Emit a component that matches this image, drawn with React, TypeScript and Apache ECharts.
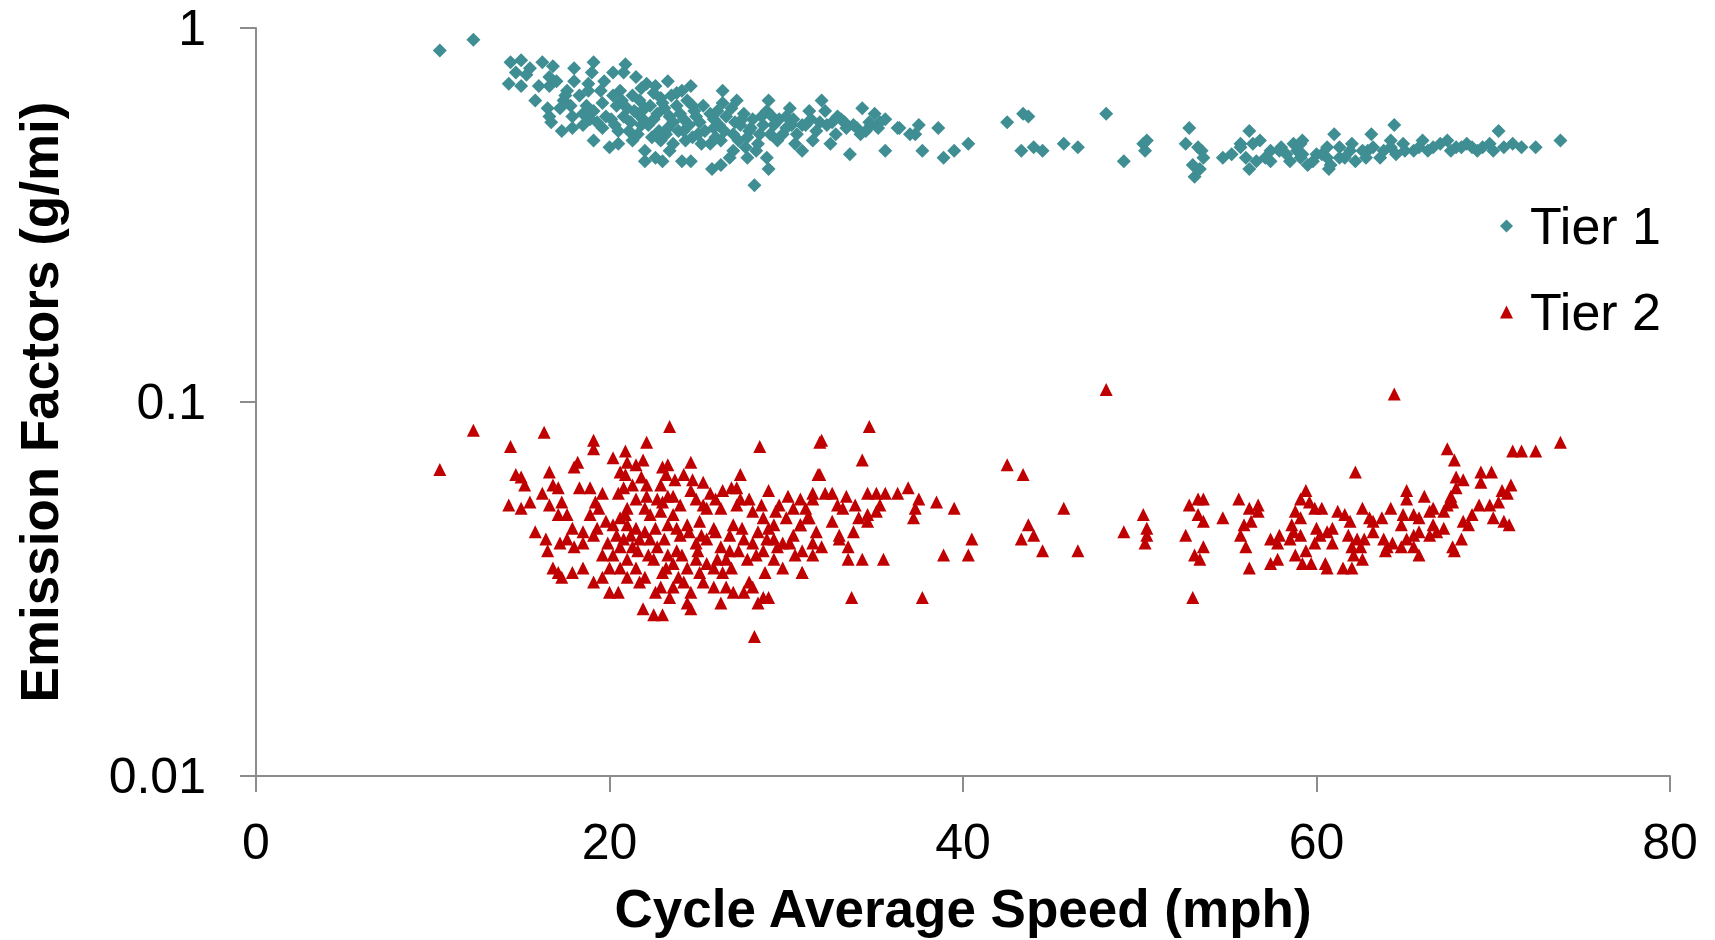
import React, { useEffect, useRef } from "react";
import * as echarts from "echarts";

const seriesNames = ["Tier 1", "Tier 2"];
const xTicks = [0, 20, 40, 60, 80];
const yTicks = [0.01, 0.1, 1];

// [cycle average speed (mph), emission factor (g/mi)]
const tier1: number[][] = [
  [10.4,0.87],[12.3,0.93],[14.4,0.81],[15.0,0.82],[16.2,0.81],[16.8,0.79],[14.7,0.76],[15.3,0.75],[14.3,0.71],[15.0,0.70],
  [15.8,0.64],[16.5,0.61],[16.6,0.58],[16.7,0.56],[17.3,0.53],[16.6,0.74],[16.6,0.70],[17.0,0.72],[18.0,0.78],[19.1,0.81],
  [19.0,0.76],[18.8,0.71],[18.8,0.68],[18.3,0.66],[17.6,0.68],[17.4,0.64],[17.2,0.61],[17.8,0.62],[17.9,0.58],[17.9,0.54],
  [18.7,0.62],[19.1,0.60],[19.5,0.68],[19.6,0.63],[18.9,0.57],[18.5,0.55],[19.1,0.50],[19.6,0.54],[20.2,0.76],[20.9,0.80],
  [20.8,0.76],[20.2,0.66],[20.6,0.68],[20.1,0.57],[20.0,0.48],[20.5,0.49],[20.5,0.53],[21.2,0.56],[21.0,0.61],[21.5,0.74],
  [22.1,0.71],[21.3,0.66],[21.7,0.64],[22.5,0.67],[23.3,0.72],[22.9,0.65],[23.5,0.66],[24.1,0.68],[24.6,0.70],[21.6,0.59],
  [22.3,0.62],[22.5,0.57],[21.8,0.55],[21.3,0.50],[22.0,0.47],[22.0,0.44],[22.6,0.45],[23.0,0.44],[22.9,0.50],[23.3,0.54],
  [23.4,0.58],[23.8,0.62],[24.4,0.64],[24.7,0.62],[24.2,0.57],[23.6,0.49],[23.4,0.47],[24.1,0.44],[24.6,0.44],[24.2,0.53],
  [24.7,0.51],[25.1,0.56],[25.3,0.62],[25.7,0.59],[26.4,0.68],[26.4,0.63],[27.2,0.64],[26.9,0.61],[25.9,0.54],[25.7,0.49],
  [26.3,0.50],[27.0,0.47],[26.8,0.45],[25.8,0.42],[26.3,0.43],[27.6,0.59],[27.4,0.55],[28.1,0.57],[27.9,0.53],[27.7,0.48],
  [27.8,0.45],[28.3,0.47],[28.9,0.45],[29.0,0.42],[28.2,0.38],[28.7,0.55],[29.0,0.64],[28.9,0.60],[29.2,0.58],[29.6,0.57],
  [30.0,0.54],[30.2,0.61],[30.4,0.57],[30.5,0.49],[30.9,0.47],[30.9,0.55],[31.3,0.60],[31.5,0.50],[32.0,0.64],[32.2,0.60],
  [31.9,0.56],[32.5,0.49],[32.6,0.56],[33.1,0.57],[33.4,0.54],[33.6,0.46],[33.8,0.55],[34.3,0.61],[34.2,0.52],[34.7,0.56],
  [35.0,0.59],[35.3,0.56],[35.6,0.47],[35.6,0.57],[36.3,0.54],
  [20.8,0.58],[21.4,0.60],[21.9,0.57],[22.2,0.55],[22.7,0.59],[23.1,0.61],[23.6,0.56],[24.0,0.59],[24.5,0.55],[24.9,0.58],
  [25.4,0.53],[25.9,0.57],[26.2,0.55],[26.6,0.58],[27.0,0.52],[27.5,0.57],[28.0,0.54],[28.5,0.52],[29.3,0.55],[29.8,0.52],
  [30.6,0.52],[31.1,0.55],[31.7,0.53],[32.3,0.55],[32.8,0.52],[33.3,0.56],[34.0,0.54],[34.5,0.53],[35.2,0.54],[21.1,0.53],
  [22.4,0.51],[23.2,0.52],[24.3,0.50],[25.2,0.49],[26.0,0.51],[27.3,0.50],[28.4,0.49],[29.5,0.50],[20.4,0.62],[19.8,0.58],
  [19.3,0.56],[18.5,0.59],[17.5,0.66],[18.0,0.72],[16.0,0.70],[15.5,0.78],[19.7,0.72],[22.6,0.70],[23.8,0.67],[21.8,0.69],
  [20.3,0.55],[21.6,0.52],[22.8,0.53],[23.9,0.53],[25.0,0.52],[26.5,0.53],[27.8,0.51],[29.1,0.52],[30.3,0.55],[31.4,0.57],
  [32.9,0.58],[34.8,0.55],[20.7,0.64],[22.0,0.61],[23.0,0.63],[24.8,0.60],[26.1,0.60],[27.1,0.56],[28.6,0.58],[30.0,0.58],
  [36.4,0.54],[37.0,0.52],[37.5,0.55],[37.3,0.52],[38.6,0.54],[37.7,0.47],[38.9,0.45],[39.5,0.47],[40.3,0.49],[42.5,0.56],
  [43.4,0.59],[43.7,0.58],[43.3,0.47],[44.0,0.48],[44.5,0.47],[45.7,0.49],[46.5,0.48],[48.1,0.59],[49.1,0.44],[50.2,0.49],
  [50.3,0.47],[50.4,0.50],[52.8,0.54],[52.6,0.49],[53.3,0.48],[53.5,0.47],[53.6,0.45],[53.0,0.43],[53.4,0.42],[53.1,0.40],
  [54.7,0.45],[55.7,0.49],[56.2,0.53],[56.4,0.49],[56.0,0.45],[56.2,0.42],[56.8,0.50],[57.4,0.47],[57.4,0.44],[57.9,0.47],
  [58.7,0.49],[59.1,0.45],[59.2,0.50],[59.5,0.43],[60.0,0.46],[60.6,0.48],[61.0,0.52],[60.8,0.43],[61.3,0.45],[61.9,0.47],
  [62.2,0.44],[63.1,0.52],[62.9,0.47],[63.6,0.45],[64.2,0.50],[64.4,0.55],
  [55.7,0.48],[58.5,0.44],[59.1,0.49],[59.2,0.46],[60.6,0.45],[60.7,0.42],[61.3,0.48],[62.6,0.47],[63.2,0.48],[64.2,0.48],
  [64.9,0.49],[65.5,0.47],[66.0,0.50],[66.6,0.48],[67.4,0.50],[67.9,0.48],[68.5,0.49],[69.1,0.47],[69.8,0.49],[70.3,0.53],
  [70.6,0.48],[71.1,0.49],[71.6,0.48],[72.4,0.48],[73.8,0.50],
  [58.0,0.48],[59.8,0.44],[60.3,0.46],[61.6,0.45],[62.0,0.49],[62.8,0.45],[63.8,0.47],[64.5,0.46],[65.0,0.47],[65.8,0.48],
  [66.3,0.47],[67.0,0.49],[67.6,0.47],[68.2,0.48],[68.8,0.48],[69.4,0.48],[70.0,0.47],[55.2,0.46],[56.6,0.44],[57.1,0.45],
  [58.3,0.46],[58.9,0.47],
];

const tier2: number[][] = [
  [10.4,0.066],[12.3,0.084],[14.4,0.076],[16.3,0.083],[19.1,0.079],[19.1,0.075],[23.4,0.086],[22.1,0.078],[28.5,0.076],[31.9,0.078],
  [14.7,0.064],[15.0,0.063],[15.2,0.060],[14.3,0.053],[15.0,0.052],[15.5,0.054],[15.8,0.045],[16.4,0.043],[16.5,0.040],[16.6,0.065],
  [16.8,0.060],[17.1,0.059],[16.2,0.057],[16.6,0.053],[17.3,0.054],[17.1,0.050],[17.6,0.050],[16.8,0.036],[17.1,0.035],[17.3,0.034],
  [17.2,0.042],[17.6,0.043],[17.9,0.035],[18.0,0.041],[17.9,0.046],[18.2,0.069],[18.0,0.067],[18.3,0.059],[18.9,0.059],[19.6,0.057],
  [19.2,0.054],[18.9,0.050],[19.4,0.052],[18.5,0.045],[19.1,0.044],[18.5,0.042],[19.3,0.046],[18.5,0.036],[19.1,0.033],[19.6,0.034],
  [20.0,0.031],[20.5,0.031],[20.2,0.071],[20.9,0.074],[21.0,0.069],[20.6,0.065],[20.9,0.064],[21.5,0.068],[21.9,0.070],[23.0,0.067],
  [23.3,0.068],[24.6,0.069],[20.8,0.059],[21.3,0.060],[22.1,0.060],[22.9,0.060],[23.7,0.062],[24.2,0.064],[24.7,0.062],[25.3,0.061],
  [24.6,0.058],[23.6,0.056],[23.3,0.056],[22.7,0.055],[22.1,0.056],[21.5,0.055],[21.0,0.052],[20.6,0.049],[20.2,0.047],[21.0,0.047],
  [21.5,0.046],[22.3,0.050],[22.9,0.051],[23.6,0.050],[23.3,0.047],[23.8,0.046],[24.4,0.047],[25.1,0.048],[25.5,0.052],[26.3,0.052],
  [26.4,0.058],[27.2,0.059],[27.4,0.055],[27.2,0.053],[28.1,0.051],[28.7,0.049],[29.0,0.058],[29.6,0.053],[30.1,0.056],[30.8,0.055],
  [31.2,0.049],[31.5,0.055],[31.8,0.064],[30.8,0.047],[30.4,0.044],[30.0,0.049],[29.3,0.047],[29.3,0.043],[29.8,0.042],[28.9,0.043],
  [28.1,0.042],[27.6,0.043],[28.3,0.039],[27.8,0.038],[30.9,0.040],[31.5,0.042],[30.5,0.039],[30.9,0.035],[28.7,0.030],[28.4,0.029],
  [29.0,0.030],[28.2,0.0236],[27.9,0.033],[28.8,0.035],[28.1,0.032],[27.6,0.031],[27.0,0.031],[26.6,0.032],[26.3,0.029],[25.9,0.032],
  [25.3,0.033],[25.5,0.037],[25.9,0.036],[26.4,0.035],[26.6,0.038],[26.8,0.040],[26.3,0.041],[25.5,0.043],[24.9,0.042],[24.9,0.038],
  [24.4,0.036],[24.2,0.033],[24.6,0.031],[24.6,0.028],[24.4,0.029],[23.6,0.032],[23.4,0.030],[23.0,0.027],[22.5,0.027],[21.9,0.028],
  [22.9,0.032],[23.0,0.035],[23.6,0.037],[23.8,0.040],[23.3,0.039],[22.5,0.038],[22.7,0.041],[22.3,0.043],[21.7,0.043],[21.3,0.041],
  [21.0,0.038],[21.5,0.036],[21.0,0.034],[21.7,0.033],[20.6,0.036],[20.2,0.039],[19.9,0.042],[19.6,0.039],[20.0,0.036],[20.8,0.043],
  [20.6,0.041],[29.3,0.038],[29.8,0.036],[29.5,0.041],[30.2,0.042],[27.0,0.047],[25.9,0.046],[25.3,0.053],[25.7,0.057],[27.4,0.064],
  [26.9,0.059],
  [20.4,0.044],[21.2,0.044],[22.0,0.045],[22.6,0.046],[23.1,0.043],[24.0,0.044],[24.5,0.045],[25.2,0.044],[26.0,0.045],[26.8,0.044],
  [27.5,0.046],[28.4,0.045],[29.0,0.046],[19.8,0.048],[20.9,0.050],[22.0,0.052],[23.0,0.054],[24.0,0.053],[24.9,0.055],[26.0,0.055],
  [27.9,0.055],[28.6,0.053],[29.4,0.051],[30.4,0.052],[21.6,0.040],[22.2,0.039],[23.2,0.036],[24.1,0.039],[25.0,0.040],[26.1,0.038],
  [27.3,0.040],[28.7,0.040],[22.0,0.034],[22.6,0.031],[23.9,0.034],[25.1,0.035],[26.9,0.036],[20.5,0.057],[21.8,0.063],[23.2,0.064],
  [48.1,0.108],[34.7,0.086],[32.0,0.079],[34.3,0.070],[31.9,0.064],[42.5,0.068],[43.4,0.064],[31.5,0.057],[32.2,0.057],[32.6,0.057],
  [33.4,0.056],[34.6,0.057],[35.1,0.057],[35.6,0.057],[36.3,0.057],[36.9,0.059],[37.5,0.055],[37.3,0.052],[37.2,0.049],[38.5,0.054],
  [39.5,0.052],[40.5,0.043],[40.3,0.039],[38.9,0.039],[37.7,0.030],[33.7,0.030],[30.9,0.035],[32.9,0.053],[33.2,0.052],[33.9,0.053],
  [34.6,0.050],[35.1,0.051],[35.3,0.053],[34.1,0.049],[34.6,0.048],[33.8,0.045],[33.0,0.044],[32.6,0.048],[31.7,0.045],[31.1,0.052],
  [31.3,0.049],[30.8,0.047],[32.0,0.041],[31.5,0.039],[33.5,0.041],[33.5,0.038],[34.3,0.038],[35.5,0.038],[33.0,0.043],
  [43.7,0.047],[44.0,0.044],[43.3,0.043],[45.7,0.052],[44.5,0.040],[46.5,0.040],[49.1,0.045],[50.2,0.050],[50.4,0.046],[50.3,0.042],
  [50.4,0.044],[52.6,0.044],[52.8,0.053],[53.3,0.050],[53.1,0.039],[53.0,0.030],[53.3,0.055],
  [64.4,0.105],[73.8,0.078],[67.4,0.075],[67.8,0.070],[71.1,0.074],[71.6,0.074],[72.4,0.074],[62.2,0.065],[69.3,0.065],[69.9,0.065],
  [69.3,0.061],[67.9,0.063],[68.3,0.062],[67.9,0.059],[71.0,0.060],[70.5,0.058],[70.8,0.057],[67.6,0.056],[67.7,0.054],[67.4,0.053],
  [70.3,0.054],[69.8,0.053],[69.2,0.053],[70.0,0.049],[70.6,0.048],[70.9,0.047],[68.8,0.050],[68.3,0.048],[68.6,0.047],[68.2,0.043],
  [67.7,0.041],[67.8,0.040],[67.2,0.051],[66.6,0.052],[66.1,0.056],[65.1,0.058],[65.1,0.055],[64.9,0.050],[65.5,0.050],[65.8,0.049],
  [66.4,0.051],[66.6,0.047],[67.2,0.046],[66.8,0.045],[66.4,0.044],[65.8,0.045],[65.5,0.044],[65.1,0.043],[64.8,0.041],[65.8,0.039],
  [65.5,0.041],[64.8,0.047],[64.2,0.052],[63.7,0.049],[63.2,0.048],[62.6,0.052],[63.0,0.049],[62.7,0.043],[62.3,0.043],[62.5,0.041],
  [62.0,0.041],[62.6,0.038],[62.0,0.036],[61.5,0.036],[62.1,0.039],[63.8,0.043],[64.3,0.042],[63.9,0.040],[64.0,0.041],[61.8,0.044],
  [61.9,0.048],[61.6,0.050],[61.2,0.051],[60.9,0.046],[60.6,0.045],[60.9,0.042],[60.5,0.037],[60.6,0.036],[60.3,0.052],[59.9,0.052],
  [59.6,0.054],[60.0,0.046],[59.9,0.042],[59.7,0.037],[59.2,0.037],[59.4,0.040],[59.1,0.044],[58.7,0.045],[58.8,0.039],[59.1,0.049],
  [58.8,0.051],[58.6,0.047],[59.1,0.055],[59.4,0.058],[58.5,0.043],[57.9,0.044],[57.8,0.042],[57.8,0.038],[57.4,0.043],[57.4,0.037],
  [56.2,0.036],[56.0,0.041],[55.7,0.044],[55.9,0.047],[56.3,0.048],[56.2,0.052],[56.7,0.053],[56.7,0.051],[55.6,0.055],[54.7,0.049],
  [53.6,0.055],[53.6,0.048],[53.6,0.041],[53.4,0.038],[60.2,0.044],[63.2,0.045],
];

const tickStyle = { show: true, length: 16, lineStyle: { color: "#8c8c8c", width: 2 } };
const font = "'Liberation Sans', Arial, Helvetica, sans-serif";

export default function App() {
  const ref = useRef<HTMLDivElement>(null);
  useEffect(() => {
    if (!ref.current) return;
    const chart = echarts.init(ref.current, null, { renderer: "svg" });
    chart.setOption({
      animation: false,
      backgroundColor: "#ffffff",
      grid: { left: 256, right: 45, top: 28, bottom: 160 },
      legend: {
        orient: "vertical",
        left: 1495,
        top: 195,
        itemGap: 34,
        itemWidth: 13,
        itemHeight: 13,
        data: [
          { name: seriesNames[0], icon: "diamond" },
          { name: seriesNames[1], icon: "triangle" },
        ],
        textStyle: { fontSize: 52, color: "#000", fontFamily: font, padding: [0, 0, 0, 12] },
      },
      xAxis: {
        type: "value",
        min: xTicks[0],
        max: xTicks[xTicks.length - 1],
        interval: 20,
        name: "Cycle Average Speed (mph)",
        nameLocation: "middle",
        nameGap: 106,
        nameTextStyle: { fontSize: 53, fontWeight: "bold", color: "#000", fontFamily: font },
        axisLine: { lineStyle: { color: "#8c8c8c", width: 2 } },
        axisTick: tickStyle,
        axisLabel: { fontSize: 50, color: "#000", fontFamily: font, margin: 41 },
        splitLine: { show: false },
      },
      yAxis: {
        type: "log",
        logBase: 10,
        min: yTicks[0],
        max: yTicks[yTicks.length - 1],
        name: "Emission Factors (g/mi)",
        nameLocation: "middle",
        nameGap: 190,
        nameTextStyle: { fontSize: 53, fontWeight: "bold", color: "#000", fontFamily: font },
        axisLine: { show: true, lineStyle: { color: "#8c8c8c", width: 2 } },
        axisTick: tickStyle,
        axisLabel: { fontSize: 50, color: "#000", fontFamily: font, margin: 50 },
        splitLine: { show: false },
      },
      series: [
        {
          name: seriesNames[0],
          type: "scatter",
          symbol: "diamond",
          symbolSize: 14,
          itemStyle: { color: "#3F8E93", opacity: 1 },
          data: tier1,
        },
        {
          name: seriesNames[1],
          type: "scatter",
          symbol: "triangle",
          symbolSize: 13,
          itemStyle: { color: "#C00000", opacity: 1 },
          data: tier2,
        },
      ],
    });
    return () => chart.dispose();
  }, []);
  return (
    <div
      ref={ref}
      style={{ position: "fixed", left: 0, top: 0, width: 1715, height: 940 }}
    />
  );
}
